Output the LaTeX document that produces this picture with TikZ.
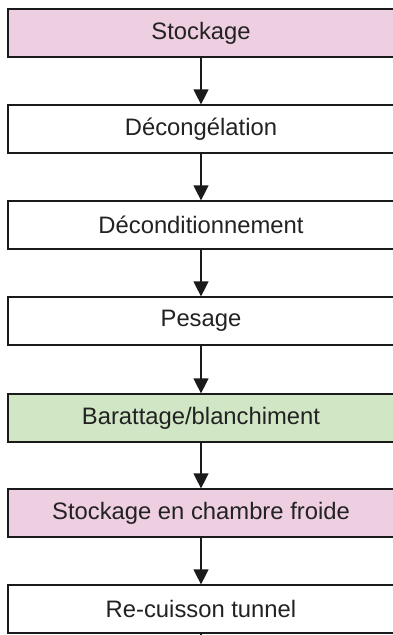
\documentclass[tikz,border=0pt]{standalone}
\usepackage{fontspec}
\setmainfont{Liberation Sans}
\usetikzlibrary{arrows.meta}
\definecolor{stockpink}{RGB}{238,206,225}
\definecolor{procgreen}{RGB}{208,230,197}
\definecolor{inkline}{RGB}{26,26,26}
\definecolor{inktext}{RGB}{34,34,34}
\begin{document}
\begin{tikzpicture}[x=1pt,y=-1pt,
  stepbox/.style={draw=inkline,line width=1.2pt,fill=white,
    minimum width=386pt,minimum height=48pt,inner sep=0pt,
    text=inktext,font=\fontsize{23.8}{26}\selectfont},
  flow/.style={draw=inkline,line width=1.2pt,
    -{Triangle[width=15pt,length=15pt]}}]
\useasboundingbox (0,0) rectangle (392,635);
\node[stepbox,fill=stockpink] (n1) at (201,33) {Stockage};
\node[stepbox] (n2) at (201,129) {Décongélation};
\node[stepbox] (n3) at (201,225) {Déconditionnement};
\node[stepbox] (n4) at (201,321) {Pesage};
\node[stepbox,fill=procgreen] (n5) at (201,418) {Barattage/blanchiment};
\node[stepbox,fill=stockpink] (n6) at (201,513) {Stockage en chambre froide};
\node[stepbox] (n7) at (201,609) {Re-cuisson tunnel};
\coordinate (tail) at (201,645);
\foreach \a/\b in {n1/n2,n2/n3,n3/n4,n4/n5,n5/n6,n6/n7}
  \draw[flow] (\a.south) -- (\b.north);
\draw[draw=inkline,line width=1.2pt] (n7.south) -- (tail);
\end{tikzpicture}
\end{document}
